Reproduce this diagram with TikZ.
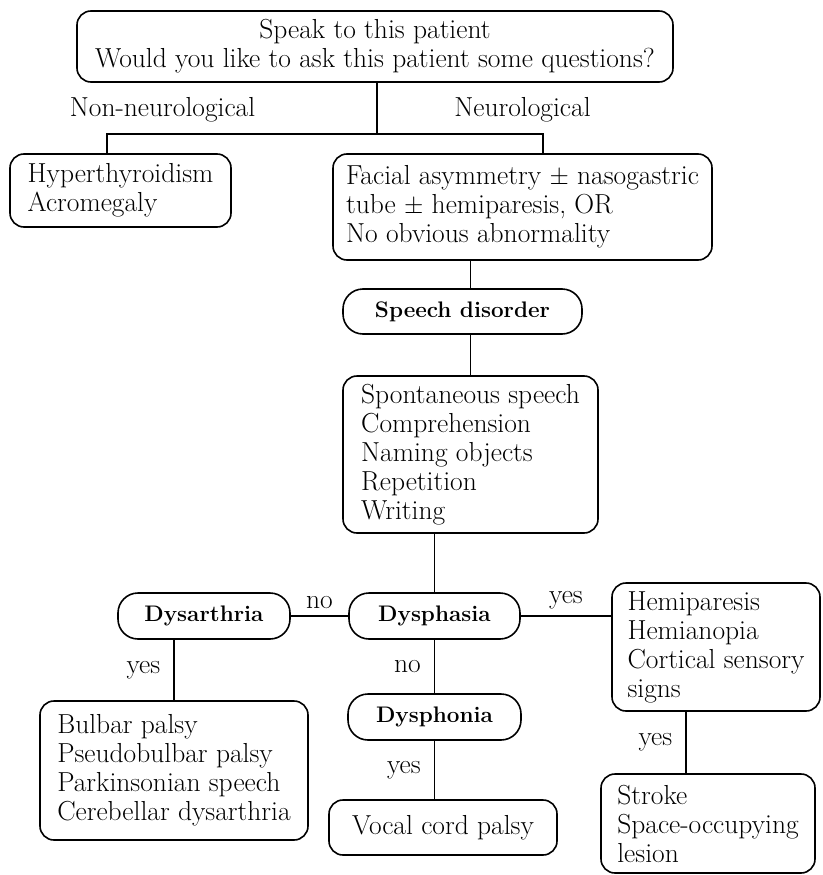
\documentclass[tikz,border=0pt]{standalone}
\usepackage{fontspec}

\begin{document}
\begin{tikzpicture}[x=1pt, y=-1pt, line width=1.6pt,
    box/.style ={draw, rounded corners=14pt, align=left, inner sep=0pt,
                 font=\fontsize{27.5}{29}\selectfont},
    pill/.style ={draw, rounded corners=20pt, inner sep=0pt,
                 font=\fontsize{22.5}{26}\selectfont\bfseries},
    answer/.style ={inner sep=6pt, font=\fontsize{27.5}{29}\selectfont}]
   \useasboundingbox (0,0) rectangle (822,875);
   \node[box, align=center, minimum width=596pt, minimum height=71pt] (question) at (375,46.5)
      {Speak to this patient\\Would you like to ask this patient some questions?};
   \node[box, minimum width=221pt, minimum height=73pt] (nonneuro) at (120.5,190.5)
      {Hyperthyroidism\\Acromegaly};
   \node[box, minimum width=379pt, minimum height=106pt] (neuro) at (522.5,207)
      {Facial asymmetry $\pm$ nasogastric\\tube $\pm$ hemiparesis, OR\\No obvious abnormality};
   \node[pill, minimum width=239pt, minimum height=45pt] (disorder) at (462.5,311.5) {Speech disorder};
   \node[box, minimum width=255pt, minimum height=157pt] (tests) at (470.5,454.5)
      {Spontaneous speech\\Comprehension\\Naming objects\\Repetition\\Writing};
   \node[pill, minimum width=172pt, minimum height=46pt] (dysarthria) at (204,616) {Dysarthria};
   \node[pill, minimum width=171pt, minimum height=46pt] (dysphasia) at (434.5,616) {Dysphasia};
   \node[pill, minimum width=173pt, minimum height=46pt] (dysphonia) at (434.5,717) {Dysphonia};
   \node[box, minimum width=268pt, minimum height=139pt] (bulbar) at (174,770.5)
      {Bulbar palsy\\Pseudobulbar palsy\\Parkinsonian speech\\Cerebellar dysarthria};
   \node[box, minimum width=228pt, minimum height=55pt] (vocal) at (443,827.5) {Vocal cord palsy};
   \node[box, minimum width=208pt, minimum height=128pt] (cortical) at (716,647)
      {Hemiparesis\\Hemianopia\\Cortical sensory\\signs};
   \node[box, minimum width=214pt, minimum height=99pt] (lesion) at (708,823.5)
      {Stroke\\Space-occupying\\lesion};
   \node[answer] (nonlabel) at (162.5,110) {Non-neurological};
   \node[answer] (neurolabel) at (522.5,110) {Neurological};
   % split under the first question
   \coordinate (split) at (377,134);
   \coordinate (leftdrop) at (107,134);
   \coordinate (rightdrop) at (543,134);
   \draw (question.south -| split) to (split);
   \draw (nonneuro.north -| leftdrop) -- (leftdrop) -- (rightdrop) -- (neuro.north -| rightdrop);
   \draw (tests.north |- neuro.south) to (tests.north |- disorder.north);
   \draw (tests.north |- disorder.south) to (tests.north);
   \draw (dysphasia.north |- tests.south) to (dysphasia.north);
   \draw (dysarthria.east) to node[answer, above] {no} (dysphasia.west);
   \draw (dysphasia.east) to node[answer, above] {yes} (dysphasia.east -| cortical.west);
   \draw (bulbar.north |- dysarthria.south) to node[answer, left=7pt] {yes} (bulbar.north);
   \draw (dysphasia) to node[answer, left=7pt] {no} (dysphonia);
   \draw (dysphonia.south) to node[answer, left=7pt] {yes} (dysphonia.south |- vocal.north);
   \draw ([xshift=-22pt]lesion.north |- cortical.south) to node[answer, left=7pt] {yes} ([xshift=-22pt]lesion.north);
\end{tikzpicture}
\end{document}
